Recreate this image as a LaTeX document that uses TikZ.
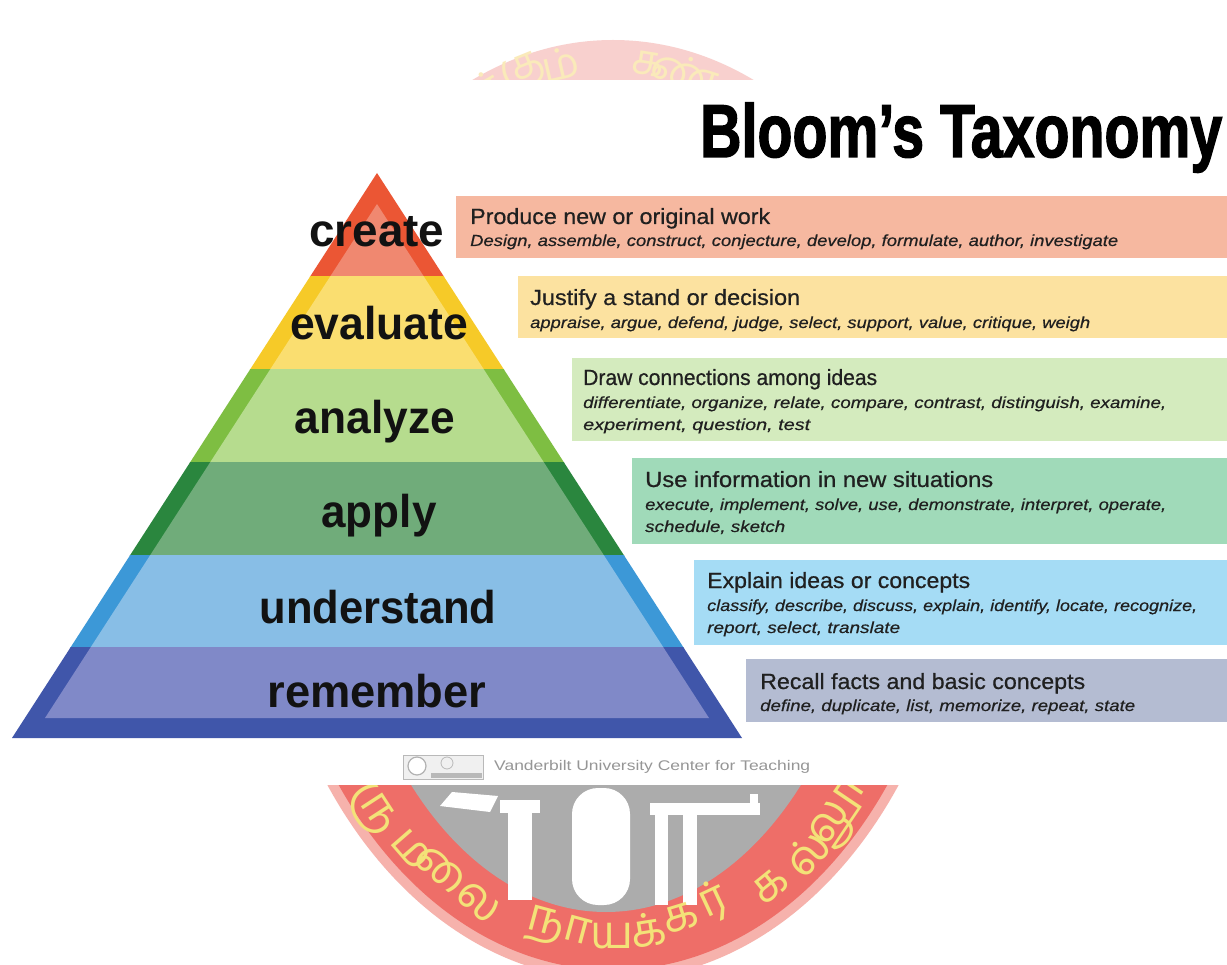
\documentclass[tikz,border=0pt]{standalone}
\usepackage{fontspec}
\usepackage{graphicx}
\setmainfont{Liberation Sans}
\newfontfamily\tamilfont[Script=Tamil]{Hind Madurai}
\newfontfamily\heavyfont[FakeBold=2]{Liberation Sans Bold}
\newfontfamily\headfont[FakeBold=0.6]{Liberation Sans}
\newfontfamily\verbfont[FakeBold=0.4]{Liberation Sans Italic}

\definecolor{createD}{RGB}{235,86,52}
\definecolor{createL}{RGB}{240,136,112}
\definecolor{evalD}{RGB}{246,202,40}
\definecolor{evalL}{RGB}{250,222,112}
\definecolor{anaD}{RGB}{126,190,66}
\definecolor{anaL}{RGB}{182,220,142}
\definecolor{appD}{RGB}{42,134,62}
\definecolor{appL}{RGB}{112,172,122}
\definecolor{undD}{RGB}{60,152,215}
\definecolor{undL}{RGB}{136,190,230}
\definecolor{remD}{RGB}{64,86,170}
\definecolor{remL}{RGB}{128,137,200}
\definecolor{boxC}{RGB}{246,184,160}
\definecolor{boxE}{RGB}{252,226,160}
\definecolor{boxA}{RGB}{212,235,190}
\definecolor{boxP}{RGB}{160,218,185}
\definecolor{boxU}{RGB}{165,220,245}
\definecolor{boxR}{RGB}{180,188,210}
\definecolor{labelink}{RGB}{18,18,18}
\definecolor{boxink}{RGB}{32,32,32}
\definecolor{footgray}{RGB}{150,150,150}
\definecolor{wmTop}{RGB}{248,208,206}
\definecolor{wmTopText}{RGB}{250,234,186}
\definecolor{wmHalo}{RGB}{246,178,172}
\definecolor{wmRed}{RGB}{238,110,104}
\definecolor{wmText}{RGB}{243,226,120}
\definecolor{wmGrey}{RGB}{172,172,172}

\newcommand\fitto[2]{\resizebox{#1pt}{\height}{#2}}
\newcommand\pyrlayer[4]{%
  \begin{scope}
    \clip (0,#1) rectangle (1227,#2);
    \fill[#3] (377,173) -- (12,738) -- (742,738) -- cycle;
    \fill[#4] (377,204) -- (45,718) -- (709,718) -- cycle;
  \end{scope}}

\tikzset{
  lbl/.style={anchor=base, inner sep=0pt, text=labelink, font=\fontsize{46}{46}\selectfont\bfseries},
  head/.style={anchor=base west, inner sep=0pt, text=boxink, font=\fontsize{22}{22}\headfont},
  verbs/.style={anchor=base west, inner sep=0pt, text=boxink, font=\fontsize{16}{16}\verbfont},
  band/.style={anchor=north west, inner sep=0pt, draw=none},
  tamb/.style={inner sep=0pt, text=wmText, font=\fontsize{46}{46}\selectfont\tamilfont},
  tamt/.style={inner sep=0pt, text=wmTopText, font=\fontsize{42}{42}\selectfont\tamilfont},
  bldg/.style={fill=white}
}

\begin{document}
\begin{tikzpicture}[x=1pt,y=-1pt]
\useasboundingbox (0,0) rectangle (1227,965);
\fill[white] (0,0) rectangle (1227,965);

% ---- watermark seal (visible only above and below the chart) ----
\begin{scope}
  \clip (0,0) rectangle (1227,80);
  \fill[wmTop] (613,507) ellipse [x radius=347pt, y radius=467pt];
  \node[tamt, rotate=30] (wt1) at (490,86) {க்};
  \node[tamt, rotate=22] (wt2) at (524,72) {கு};
  \node[tamt, rotate=13] (wt3) at (560,64) {ம்};
  \node[tamt, rotate=-9] (wt4) at (648,64) {க};
  \node[tamt, rotate=-18] (wt5) at (686,72) {ண்};
\end{scope}
\begin{scope}
  \clip (0,785) rectangle (1227,965);
  \fill[wmHalo] (613,507) ellipse [x radius=353pt, y radius=473pt];
  \fill[wmRed] (613,507) ellipse [x radius=343pt, y radius=463pt];
  \fill[wmGrey] (606,507) ellipse [x radius=268pt, y radius=405pt];
  % building silhouettes
  \fill[bldg, rounded corners=26pt] (572,788) rectangle (630,905);
  \fill[bldg] (508,812) rectangle (532,900);
  \fill[bldg] (500,800) rectangle (540,813);
  \fill[bldg] (440,806) -- (452,792) -- (498,796) -- (490,812) -- cycle;
  \fill[bldg] (650,803) rectangle (760,815);
  \fill[bldg] (750,794) rectangle (758,815);
  \fill[bldg] (655,815) rectangle (668,905);
  \fill[bldg] (683,815) rectangle (697,905);
  % ring text
  \node[tamb, rotate=-57] (wb1) at (372,810) {ரு};
  \node[tamb, rotate=-49] (wb2) at (412,850) {ம};
  \node[tamb, rotate=-40] (wb3) at (458,884) {லை};
  \node[tamb, rotate=-15] (wb4) at (558,930) {நா};
  \node[tamb, rotate=0]   (wb5) at (612,936) {ய};
  \node[tamb, rotate=9]   (wb6) at (648,930) {க்};
  \node[tamb, rotate=17]  (wb7) at (681,918) {க};
  \node[tamb, rotate=25]  (wb8) at (713,902) {ர்};
  \node[tamb, rotate=39]  (wb9) at (770,886) {க};
  \node[tamb, rotate=48]  (wb10) at (807,853) {ல்};
  \node[tamb, rotate=56]  (wb11) at (842,815) {லூ};
\end{scope}

% ---- title ----
\node[anchor=base west, inner sep=0pt, text=black] (title) at (700,157)
  {\fitto{522}{\fontsize{75}{75}\heavyfont Bloom’s Taxonomy}};

% ---- pyramid ----
\pyrlayer{173}{277}{createD}{createL}
\pyrlayer{277}{370}{evalD}{evalL}
\pyrlayer{370}{463}{anaD}{anaL}
\pyrlayer{463}{555}{appD}{appL}
\pyrlayer{555}{647}{undD}{undL}
\pyrlayer{647}{738}{remD}{remL}

\node[lbl] (lcreate) at (377,247) {\fitto{135}{create}};
\node[lbl] (levaluate) at (379,340) {\fitto{178}{evaluate}};
\node[lbl] (lanalyze) at (375,434) {\fitto{160}{analyze}};
\node[lbl] (lapply) at (379,527) {\fitto{115}{apply}};
\node[lbl] (lunderstand) at (378,623) {\fitto{237}{understand}};
\node[lbl] (lremember) at (377,707) {\fitto{219}{remember}};

% ---- description bands ----
\node[band, fill=boxC, minimum width=771pt, minimum height=62pt] (bcreate) at (456,196) {};
\node[band, fill=boxE, minimum width=709pt, minimum height=62pt] (bevaluate) at (518,276) {};
\node[band, fill=boxA, minimum width=655pt, minimum height=83pt] (banalyze) at (572,358) {};
\node[band, fill=boxP, minimum width=595pt, minimum height=86pt] (bapply) at (632,458) {};
\node[band, fill=boxU, minimum width=533pt, minimum height=85pt] (bunderstand) at (694,560) {};
\node[band, fill=boxR, minimum width=481pt, minimum height=63pt] (bremember) at (746,659) {};

\node[head] (hcreate) at (470,224) {\fitto{300}{Produce new or original work}};
\node[verbs] (vcreate) at (470,246) {\fitto{648}{Design, assemble, construct, conjecture, develop, formulate, author, investigate}};

\node[head] (hevaluate) at (530,305) {\fitto{270}{Justify a stand or decision}};
\node[verbs] (vevaluate) at (530,328) {\fitto{560}{appraise, argue, defend, judge, select, support, value, critique, weigh}};

\node[head] (hanalyze) at (583,385) {\fitto{294}{Draw connections among ideas}};
\node[verbs] (vanalyze1) at (583,408) {\fitto{583}{differentiate, organize, relate, compare, contrast, distinguish, examine,}};
\node[verbs] (vanalyze2) at (583,430) {\fitto{227}{experiment, question, test}};

\node[head] (happly) at (645,487) {\fitto{348}{Use information in new situations}};
\node[verbs] (vapply1) at (645,510) {\fitto{521}{execute, implement, solve, use, demonstrate, interpret, operate,}};
\node[verbs] (vapply2) at (645,532) {\fitto{140}{schedule, sketch}};

\node[head] (hunderstand) at (707,588) {\fitto{263}{Explain ideas or concepts}};
\node[verbs] (vunderstand1) at (707,611) {\fitto{490}{classify, describe, discuss, explain, identify, locate, recognize,}};
\node[verbs] (vunderstand2) at (707,633) {\fitto{193}{report, select, translate}};

\node[head] (hremember) at (760,689) {\fitto{325}{Recall facts and basic concepts}};
\node[verbs] (vremember) at (760,711) {\fitto{375}{define, duplicate, list, memorize, repeat, state}};

% ---- credit line ----
\draw[gray!55, fill=gray!12, line width=0.8pt] (403,755) rectangle (483,779);
\fill[gray!55] (431,773) rectangle (482,778);
\draw[gray!60, fill=white, line width=1.2pt] (417,766) circle [radius=9pt];
\draw[gray!55, line width=0.8pt] (447,763) circle [radius=6pt];
\node[anchor=west, inner sep=0pt, text=footgray] (credit) at (494,767)
  {\fitto{316}{\fontsize{14}{14}\selectfont Vanderbilt University Center for Teaching}};
\end{tikzpicture}
\end{document}
